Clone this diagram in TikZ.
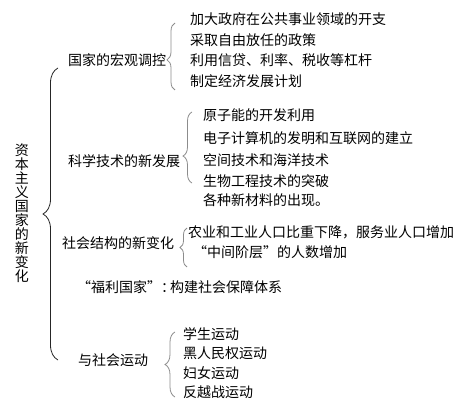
\documentclass[tikz,border=0pt]{standalone}
\usepackage{fontspec}
\newfontfamily\cjkfont{Noto Sans CJK SC}
\usepackage{tikz}
\usetikzlibrary{decorations.pathreplacing}
\tikzset{
  txt/.style={inner sep=0pt,text height=11pt,text depth=3pt,anchor=west,
    font=\cjkfont\fontsize{14}{14}\selectfont},
  vtxt/.style={inner sep=0pt,align=center,font=\cjkfont\fontsize{14}{14}\selectfont},
  brc/.style={decorate,line width=0.8pt,draw=gray!90},
}

\begin{document}
\begin{tikzpicture}[x=1pt,y=-1pt]
    \useasboundingbox (0,0) rectangle (467,412);
    % Title
    \node[vtxt] (t) at (22,213) {资\\本\\主\\义\\国\\家\\的\\新\\变\\化};
    % Branch labels
    \node[txt] (l1) at (68,62) {国家的宏观调控};
    \node[txt] (l2) at (68,163) {科学技术的新发展};
    \node[txt] (l3) at (62,245) {社会结构的新变化};
    \node[txt] (l4) at (77,289) {“福利国家”：};
    \node[txt] (l5) at (78,362) {与社会运动};
    % Big brace
    \draw[brc,draw=black!85,decoration={brace,amplitude=15pt}]
        ([xshift=-20pt,yshift=2pt]l5.west) -- ([xshift=-10pt,yshift=-6pt]l1.west);
    % First branch
    \node[txt] (i11) at (190,21) {加大政府在公共事业领域的开支};
    \node[txt] (i12) at (190,42) {采取自由放任的政策};
    \node[txt] (i13) at (190,62) {利用信贷、利率、税收等杠杆};
    \node[txt] (i14) at (190,83) {制定经济发展计划};
    \draw[brc,decoration={brace,amplitude=8pt,aspect=0.45}]
        ([xshift=-15pt,yshift=-7pt]i14.west) -- ([xshift=-15pt,yshift=-2pt]i11.west);
    % Second branch
    \node[txt] (i21) at (203,117) {原子能的开发利用};
    \node[txt] (i22) at (203,140) {电子计算机的发明和互联网的建立};
    \node[txt] (i23) at (203,162) {空间技术和海洋技术};
    \node[txt] (i24) at (203,182) {生物工程技术的突破};
    \node[txt] (i25) at (203,202) {各种新材料的出现。};
    \draw[brc,decoration={brace,amplitude=9pt,aspect=0.38}]
        ([xshift=-11pt,yshift=-1pt]i24.west) -- ([xshift=-11pt,yshift=5pt]i21.west);
    % Third branch
    \node[txt] (i31) at (188,233) {农业和工业人口比重下降，服务业人口增加};
    \node[txt] (i32) at (193,254) {“中间阶层”的人数增加};
    \draw[brc,decoration={brace,amplitude=7pt}]
        ([xshift=-6pt,yshift=-13pt]i32.west) -- ([xshift=-1pt,yshift=5pt]i31.west);
    % Fourth branch
    \node[txt] (i41) at (170,289) {构建社会保障体系};
    % Fifth branch
    \node[txt] (i51) at (183,336) {学生运动};
    \node[txt] (i52) at (183,355) {黑人民权运动};
    \node[txt] (i53) at (183,374) {妇女运动};
    \node[txt] (i54) at (183,393) {反越战运动};
    \draw[brc,decoration={brace,amplitude=10pt}]
        ([xshift=-8pt,yshift=-4pt]i54.west) -- ([xshift=-8pt,yshift=4pt]i51.west);
\end{tikzpicture}
\end{document}
